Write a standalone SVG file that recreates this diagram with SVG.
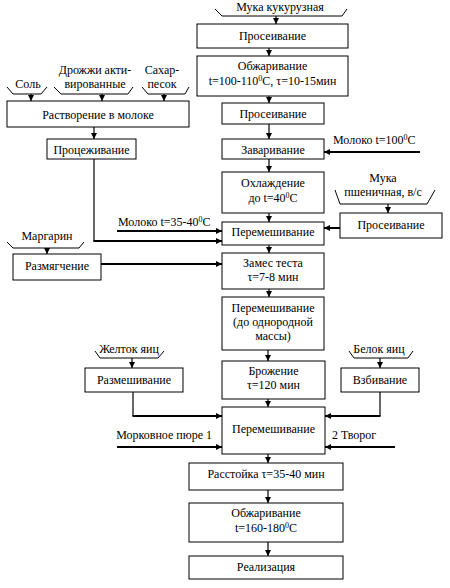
<svg xmlns="http://www.w3.org/2000/svg" width="450" height="588" viewBox="0 0 450 588">
<style>
rect.b{fill:#fff;stroke:#000;stroke-width:1}
text{font-family:'Liberation Serif','DejaVu Serif',serif;font-size:12px;fill:#000;text-anchor:middle}
text.l{text-anchor:start}
text.e{text-anchor:end}
.br{fill:none;stroke:#000;stroke-width:1}
.c{fill:none;stroke:#000;stroke-width:1.2}
.t{fill:none;stroke:#000;stroke-width:2}
</style>
<defs>
<marker id="a" markerUnits="userSpaceOnUse" markerWidth="6" markerHeight="6" refX="6" refY="3" orient="auto">
<path d="M0,0 L6,3 L0,6 z" fill="#000"/>
</marker>
</defs>
<rect width="450" height="588" fill="#fff"/>

<g id="connectors">
<line class="c" x1="276" y1="16" x2="276" y2="24" marker-end="url(#a)"/>
<line class="c" x1="269" y1="48" x2="269" y2="56" marker-end="url(#a)"/>
<line class="c" x1="269" y1="96" x2="269" y2="103" marker-end="url(#a)"/>
<line class="c" x1="269" y1="124" x2="269" y2="139" marker-end="url(#a)"/>
<line class="t" x1="420" y1="152" x2="324" y2="152" marker-end="url(#a)"/>
<line class="c" x1="269" y1="159" x2="269" y2="172" marker-end="url(#a)"/>
<line class="c" x1="269" y1="213" x2="269" y2="222" marker-end="url(#a)"/>
<line class="c" x1="269" y1="245" x2="269" y2="253" marker-end="url(#a)"/>
<line class="c" x1="269" y1="289" x2="269" y2="297" marker-end="url(#a)"/>
<line class="c" x1="268" y1="350" x2="268" y2="361" marker-end="url(#a)"/>
<line class="c" x1="268" y1="399" x2="268" y2="407" marker-end="url(#a)"/>
<line class="c" x1="268" y1="454" x2="268" y2="463" marker-end="url(#a)"/>
<line class="c" x1="268" y1="490" x2="268" y2="503" marker-end="url(#a)"/>
<line class="c" x1="268" y1="542" x2="268" y2="556" marker-end="url(#a)"/>
<line class="c" x1="31" y1="94" x2="31" y2="101" marker-end="url(#a)"/>
<line class="c" x1="102" y1="94" x2="102" y2="101" marker-end="url(#a)"/>
<line class="c" x1="164" y1="94" x2="164" y2="101" marker-end="url(#a)"/>
<line class="c" x1="94" y1="127" x2="94" y2="139" marker-end="url(#a)"/>
<polyline class="c" points="94,159 94,241 150,241"/>
<line class="t" x1="93.5" y1="241" x2="222" y2="241" marker-end="url(#a)"/>
<line class="t" x1="117" y1="231" x2="222" y2="231" marker-end="url(#a)"/>
<line class="c" x1="47" y1="248" x2="47" y2="254" marker-end="url(#a)"/>
<line class="t" x1="101" y1="264" x2="222" y2="264" marker-end="url(#a)"/>
<line class="c" x1="388" y1="204" x2="388" y2="213" marker-end="url(#a)"/>
<line class="t" x1="340" y1="228" x2="324" y2="228" marker-end="url(#a)"/>
<line class="c" x1="132" y1="358" x2="132" y2="368" marker-end="url(#a)"/>
<polyline class="c" points="133,392 133,416"/>
<line class="t" x1="132.5" y1="416" x2="222" y2="416" marker-end="url(#a)"/>
<line class="c" x1="380" y1="358" x2="380" y2="368" marker-end="url(#a)"/>
<polyline class="c" points="380,392 380,416"/>
<line class="t" x1="380.5" y1="416" x2="325" y2="416" marker-end="url(#a)"/>
<line class="t" x1="117" y1="447" x2="222" y2="447" marker-end="url(#a)"/>
<line class="t" x1="395" y1="447" x2="325" y2="447" marker-end="url(#a)"/>
</g>

<g id="in-muka-kuk">
<polyline class="br" points="215,9 222,16 342,16 347,9"/>
<text x="280" y="11">Мука кукурузная</text>
</g>
<g id="n1"><rect class="b" x="197" y="24" width="151" height="24"/><text x="272.5" y="40">Просеивание</text></g>
<g id="n2"><rect class="b" x="197" y="56" width="151" height="40"/>
<text x="272.5" y="70">Обжаривание</text>
<text x="272.5" y="85">t=100-110<tspan dy="-4" font-size="8">0</tspan><tspan dy="4">C, τ=10-15мин</tspan></text></g>
<g id="n3"><rect class="b" x="222" y="103" width="102" height="21"/><text x="273" y="118">Просеивание</text></g>
<g id="n4"><rect class="b" x="222" y="139" width="102" height="20"/><text x="273" y="154">Заваривание</text></g>
<g id="in-milk100"><text class="l" x="333" y="144">Молоко t=100<tspan dy="-4" font-size="8">0</tspan><tspan dy="4">C</tspan></text></g>
<g id="n5"><rect class="b" x="222" y="172" width="102" height="41"/>
<text x="273" y="187">Охлаждение</text>
<text x="273" y="202">до t=40<tspan dy="-4" font-size="8">0</tspan><tspan dy="4">C</tspan></text></g>
<g id="n6"><rect class="b" x="222" y="222" width="102" height="23"/><text x="273" y="236">Перемешивание</text></g>
<g id="n7"><rect class="b" x="222" y="253" width="102" height="36"/>
<text x="273" y="267">Замес теста</text>
<text x="273" y="281">τ=7-8 мин</text></g>
<g id="n8"><rect class="b" x="222" y="297" width="102" height="53"/>
<text x="273" y="312">Перемешивание</text>
<text x="273" y="326">(до однородной</text>
<text x="273" y="340">массы)</text></g>
<g id="n9"><rect class="b" x="222" y="361" width="103" height="38"/>
<text x="273.5" y="375">Брожение</text>
<text x="273.5" y="389">τ=120 мин</text></g>
<g id="n10"><rect class="b" x="222" y="407" width="103" height="47"/><text x="273.5" y="433">Перемешивание</text></g>
<g id="n11"><rect class="b" x="189" y="463" width="154" height="27"/><text x="266" y="478">Расстойка τ=35-40 мин</text></g>
<g id="n12"><rect class="b" x="189" y="503" width="154" height="39"/>
<text x="266" y="517">Обжаривание</text>
<text x="266" y="532">t=160-180<tspan dy="-4" font-size="8">0</tspan><tspan dy="4">C</tspan></text></g>
<g id="n13"><rect class="b" x="189" y="556" width="154" height="23"/><text x="266" y="571">Реализация</text></g>

<g id="in-sol"><polyline class="br" points="7,87 13,94 41,94 47,87"/><text x="28" y="88">Соль</text></g>
<g id="in-drozh"><polyline class="br" points="54,87 61,94 128,94 133,87"/>
<text x="95" y="74">Дрожжи акти-</text><text x="95" y="88">вированные</text></g>
<g id="in-sahar"><polyline class="br" points="142,87 148,94 185,94 189,87"/>
<text x="162" y="74">Сахар-</text><text x="162" y="88">песок</text></g>
<g id="l1"><rect class="b" x="7" y="101" width="182" height="26"/><text x="98" y="119">Растворение в молоке</text></g>
<g id="l2"><rect class="b" x="47" y="139" width="89" height="20"/><text x="91.5" y="154">Процеживание</text></g>
<g id="in-milk35"><text class="l" x="118" y="226">Молоко t=35-40<tspan dy="-4" font-size="8">0</tspan><tspan dy="4">C</tspan></text></g>
<g id="in-margarin"><polyline class="br" points="7,242 13,248 79,248 84,242"/><text x="47" y="240">Маргарин</text></g>
<g id="l3"><rect class="b" x="13" y="254" width="88" height="26"/><text x="57" y="270">Размягчение</text></g>

<g id="in-muka-psh"><polyline class="br" points="335,190 340,204 427,204 435,190"/>
<text x="383" y="182">Мука</text><text x="383" y="196">пшеничная, в/с</text></g>
<g id="r1"><rect class="b" x="340" y="213" width="102" height="25"/><text x="391" y="229">Просеивание</text></g>

<g id="in-zheltok"><polyline class="br" points="95,351 100,358 158,358 164,351"/><text x="129" y="353">Желток яиц</text></g>
<g id="l4"><rect class="b" x="85" y="368" width="98" height="24"/><text x="134" y="384">Размешивание</text></g>
<g id="in-belok"><polyline class="br" points="349,351 354,358 408,358 413,351"/><text x="379" y="353">Белок яиц</text></g>
<g id="r2"><rect class="b" x="341" y="368" width="78" height="24"/><text x="380" y="384">Взбивание</text></g>
<g id="in-morkov"><text class="e" x="212" y="439">Морковное пюре  1</text></g>
<g id="in-tvorog"><text class="l" x="332" y="439">2  Творог</text></g>
</svg>
